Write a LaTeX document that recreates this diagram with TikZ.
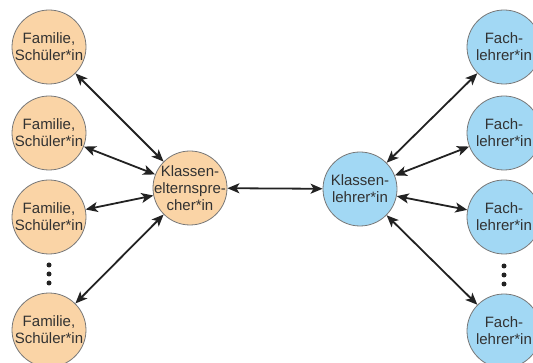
\documentclass[tikz,border=0pt]{standalone}
\usepackage{fontspec}
\setmainfont{Liberation Sans}
\usetikzlibrary{arrows.meta}
\definecolor{peach}{RGB}{250,212,166}
\definecolor{sky}{RGB}{162,216,244}
\definecolor{rim}{RGB}{120,120,120}
\definecolor{ink}{RGB}{50,50,50}
\definecolor{arr}{RGB}{34,34,34}
\begin{document}
\begin{tikzpicture}[x=1pt,y=-1pt,
  bub/.style={circle,draw=rim,line width=0.8pt,minimum size=74pt,inner sep=0pt},
  fam/.style={bub,fill=peach},
  teach/.style={bub,fill=sky},
  txt/.style={font=\fontsize{15}{17}\selectfont,text=ink,align=center,inner sep=0pt},
  link/.style={{Stealth[length=12pt,width=10pt,inset=3pt]}-{Stealth[length=12pt,width=10pt,inset=3pt]},draw=arr,line width=1.8pt},
  dot/.style={circle,fill=arr,inner sep=0pt,minimum size=5pt}]
\clip (0,0) rectangle (533,363);
% left column
\node[fam,label={[txt]center:Familie,\\Schüler*in}] (f1) at (49,47) {};
\node[fam,label={[txt]center:Familie,\\Schüler*in}] (f2) at (49,133) {};
\node[fam,label={[txt]center:Familie,\\Schüler*in}] (f3) at (49,217) {};
\node[fam,label={[txt]center:Familie,\\Schüler*in}] (f4) at (49,330) {};
\node[dot] (ld1) at (49,265) {};
\node[dot] (ld2) at (49,274) {};
\node[dot] (ld3) at (49,283) {};
% centre
\node[fam,label={[txt]center:Klassen-\\elternspre-\\cher*in}] (kes) at (190,188) {};
\node[teach,label={[txt]center:Klassen-\\lehrer*in}] (kl) at (360,189) {};
% right column
\node[teach,label={[txt]center:Fach-\\lehrer*in}] (t1) at (504,47) {};
\node[teach,label={[txt]center:Fach-\\lehrer*in}] (t2) at (504,133) {};
\node[teach,label={[txt]center:Fach-\\lehrer*in}] (t3) at (504,217) {};
\node[teach,label={[txt]center:Fach-\\lehrer*in}] (t4) at (504,331) {};
\node[dot] (rd1) at (504,266) {};
\node[dot] (rd2) at (504,275) {};
\node[dot] (rd3) at (504,284) {};
% connectors
\foreach \n in {f1,f2,f3,f4} \draw[link] (\n) -- (kes);
\draw[link] (kes) -- (kl);
\foreach \n in {t1,t2,t3,t4} \draw[link] (kl) -- (\n);
\end{tikzpicture}
\end{document}
